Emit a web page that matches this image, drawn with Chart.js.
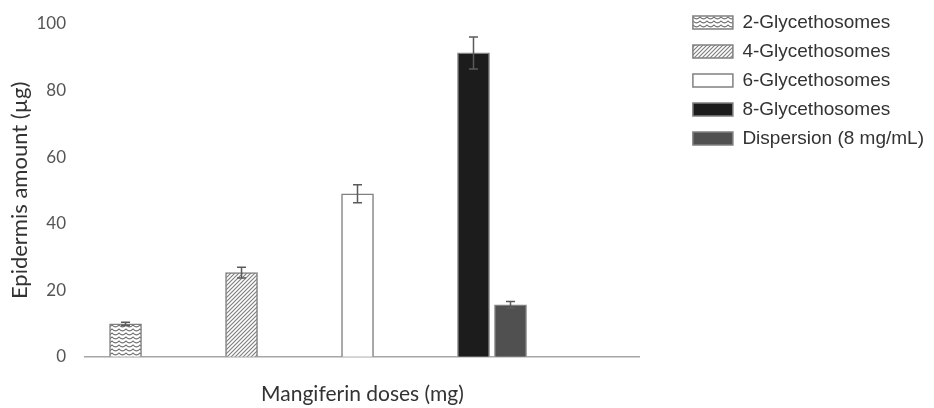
<!DOCTYPE html>
<html>
<head>
<meta charset="utf-8">
<script src="https://cdn.jsdelivr.net/npm/chart.js@4.4.1/dist/chart.umd.min.js"></script>
<style>
  html, body { margin: 0; padding: 0; background: #fff; }
</style>
</head>
<body>
<canvas id="grafico" width="934" height="408"></canvas>
<script>
// doses on the x axis (mg), one bar group per dose
const doses = [2, 4, 6, 8];
const seriesNames = ['2-Glycethosomes', '4-Glycethosomes', '6-Glycethosomes', '8-Glycethosomes', 'Dispersion (8 mg/mL)'];

// epidermis amount (µg)
const gly2 = [9.9, null, null, null];
const gly4 = [null, 25.3, null, null];
const gly6 = [null, null, 49.0, null];
const gly8 = [null, null, null, 91.3];
const dispersion = [null, null, null, 15.6];

// +/- error for each series
const errorBars = [0.5, 1.6, 2.7, 4.8, 1.0];

const yTicks = [0, 20, 40, 60, 80, 100];

const ctx = document.getElementById('grafico').getContext('2d');

function wavePattern() {
  const c = document.createElement('canvas');
  c.width = 7; c.height = 4;
  const g = c.getContext('2d');
  g.fillStyle = '#fff';
  g.fillRect(0, 0, 7, 4);
  g.strokeStyle = '#6e6e6e';
  g.lineWidth = 1.1;
  g.beginPath();
  g.moveTo(0, 0.8);
  g.quadraticCurveTo(3.5, 5, 7, 0.8);
  g.stroke();
  return ctx.createPattern(c, 'repeat');
}

function diagPattern() {
  const c = document.createElement('canvas');
  c.width = 4; c.height = 4;
  const g = c.getContext('2d');
  g.fillStyle = '#fff';
  g.fillRect(0, 0, 4, 4);
  g.strokeStyle = '#808080';
  g.lineWidth = 1.2;
  g.beginPath();
  g.moveTo(-1, 5); g.lineTo(5, -1);
  g.moveTo(-1, 1); g.lineTo(1, -1);
  g.moveTo(3, 5); g.lineTo(5, 3);
  g.stroke();
  return ctx.createPattern(c, 'repeat');
}

const seriesValues = [gly2, gly4, gly6, gly8, dispersion];
const fills = [wavePattern(), diagPattern(), '#ffffff', '#1c1c1c', '#505050'];

const datasets = seriesValues.map(function (vals, k) {
  return {
    label: seriesNames[k],
    data: doses.map(function (d, i) { return { x: d, y: vals[i] }; }),
    backgroundColor: fills[k],
    borderColor: '#808080',
    borderWidth: 1.5,
    xAxisID: 'x',
    yAxisID: 'y'
  };
});

// draws the whiskers on top of the bars
const errorBarPlugin = {
  id: 'errorBars',
  afterDatasetsDraw(chart) {
    const c = chart.ctx;
    const yScale = chart.scales.y;
    c.save();
    c.strokeStyle = '#5a5a5a';
    c.lineWidth = 1.5;
    chart.data.datasets.forEach(function (ds, di) {
      const meta = chart.getDatasetMeta(di);
      meta.data.forEach(function (bar, i) {
        const v = ds.data[i].y;
        if (v === null) return;
        const top = yScale.getPixelForValue(v + errorBars[di]);
        const bottom = yScale.getPixelForValue(v - errorBars[di]);
        c.beginPath();
        c.moveTo(bar.x, top); c.lineTo(bar.x, bottom);
        c.moveTo(bar.x - 4.5, top); c.lineTo(bar.x + 4.5, top);
        c.moveTo(bar.x - 4.5, bottom); c.lineTo(bar.x + 4.5, bottom);
        c.stroke();
      });
    });
    c.restore();
  }
};

new Chart(ctx, {
  type: 'bar',
  data: { datasets: datasets },
  options: {
    responsive: false,
    animation: false,
    layout: { padding: { left: 0, right: 0, top: 3, bottom: 0 } },
    datasets: { bar: { barThickness: 37, maxBarThickness: 32 } },
    scales: {
      x: {
        type: 'linear',
        position: 'bottom',
        min: -0.9,
        max: 13.15,
        offset: false,
        grid: { display: false, drawTicks: false },
        border: { color: '#a6a6a6', width: 1.5 },
        ticks: { display: false },
        title: {
          display: true,
          text: 'Mangiferin doses (mg)',
          color: '#333333',
          font: { family: 'Lato', size: 21 },
          padding: { top: 25, bottom: 1 }
        }
      },
      xTop: {
        type: 'linear',
        position: 'top',
        grid: { display: false, drawTicks: false },
        border: { display: false },
        ticks: { display: false },
        afterFit: function (s) { s.height = 21; }
      },
      y: {
        type: 'linear',
        position: 'left',
        min: yTicks[0],
        max: yTicks[yTicks.length - 1],
        // tick marks are hidden, their length only spaces the labels off the plot
        grid: { display: false, drawTicks: true, tickLength: 16 },
        border: { display: false },
        ticks: {
          stepSize: yTicks[1] - yTicks[0],
          padding: 3,
          color: '#555555',
          font: { family: 'Lato', size: 17 }
        },
        title: {
          display: true,
          text: 'Epidermis amount (µg)',
          color: '#333333',
          font: { family: 'Lato', size: 22 },
          padding: { top: 7, bottom: 6 }
        },
        afterFit: function (s) { s.width = 85; }
      },
      yRight: {
        type: 'linear',
        position: 'right',
        grid: { display: false, drawTicks: false },
        border: { display: false },
        ticks: { display: false },
        afterFit: function (s) { s.width = 43; }
      }
    },
    plugins: {
      legend: {
        position: 'right',
        align: 'start',
        maxWidth: 260,
        labels: {
          boxWidth: 40,
          boxHeight: 13,
          padding: 10,
          color: '#333333',
          font: { family: 'Liberation Sans', size: 19 }
        }
      },
      tooltip: { enabled: false }
    }
  },
  plugins: [errorBarPlugin]
});
</script>
</body>
</html>
